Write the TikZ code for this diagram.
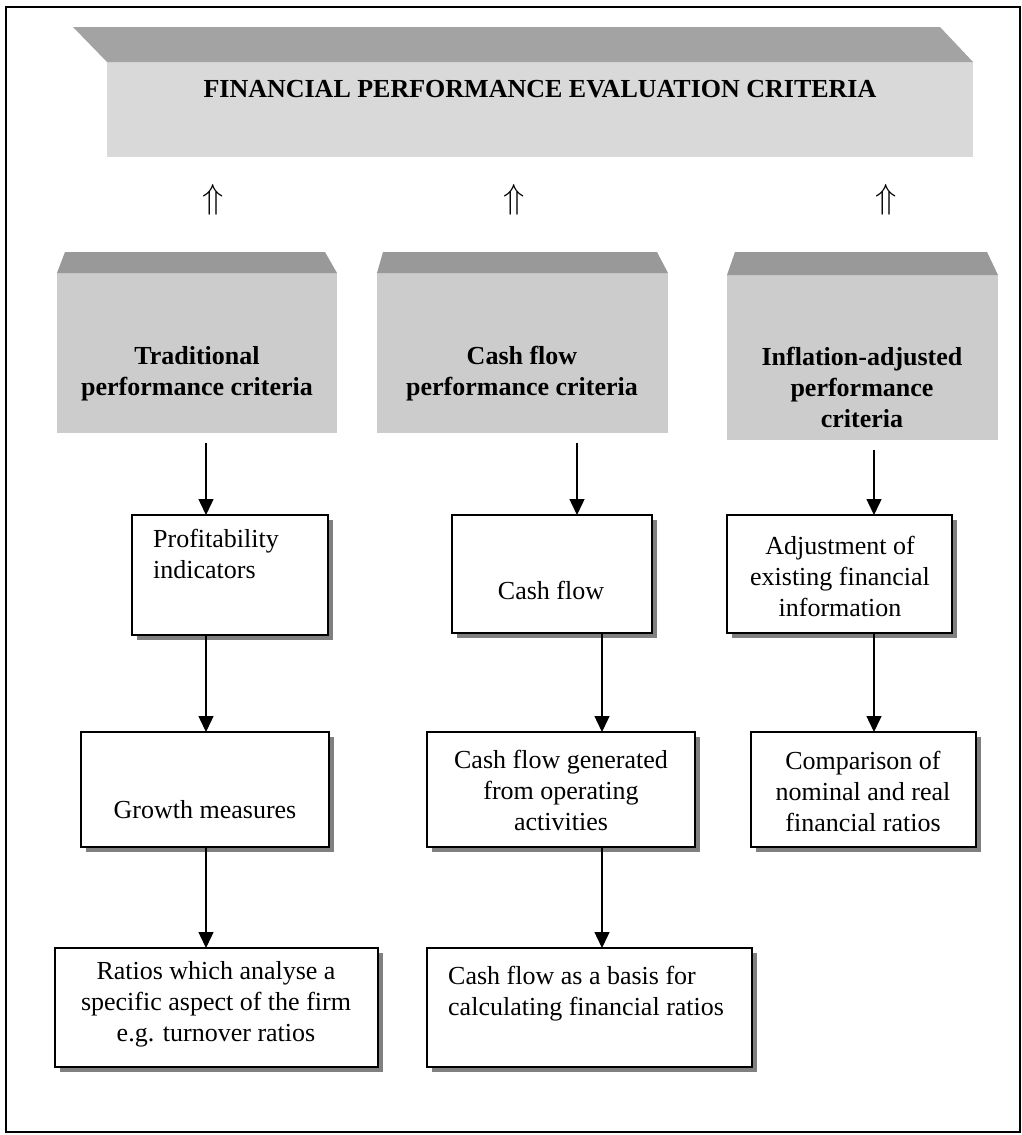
\documentclass[tikz,border=0pt]{standalone}
\usepackage{fontspec}
\setmainfont{Liberation Serif}
\usetikzlibrary{arrows.meta,shadows,calc}
\definecolor{hdrfront}{gray}{0.85}
\definecolor{hdrtop}{gray}{0.64}
\definecolor{crfront}{gray}{0.80}
\definecolor{crtop}{gray}{0.60}
\definecolor{shad}{gray}{0.50}
\begin{document}
\begin{tikzpicture}[x=1pt,y=-1pt,
  every node/.style={font=\fontsize{26}{31}\selectfont},
  wbox/.style={draw=black, line width=1.6pt, fill=white, outer sep=0pt, inner sep=0pt,
    drop shadow={shadow xshift=5pt, shadow yshift=-5pt, fill=shad, opacity=1}},
  face/.style={outer sep=0pt, inner sep=0pt, draw=none},
  txt/.style={inner sep=0pt, align=center},
  uparr/.style={inner sep=0pt, scale=1.4},
  btxt/.style={inner sep=0pt, align=center, font=\fontsize{26}{31}\selectfont\bfseries},
  ltxt/.style={inner sep=0pt, align=left, anchor=north west},
  arr/.style={line width=1.4pt, -{Triangle[length=16pt,width=15pt]}},
  frame/.style={draw=black, line width=2pt}
]
\useasboundingbox (0,0) rectangle (1022,1135);
\fill[white] (0,0) rectangle (1022,1135);
\draw[frame] (6,7) rectangle (1020,1132);

% header
\node[face, fill=hdrfront, minimum width=866pt, minimum height=95pt] (hdr) at (540,109.5) {};
\fill[hdrtop] ($(hdr.north west)+(-34,-35)$) -- ($(hdr.north east)+(-33,-35)$) -- (hdr.north east) -- (hdr.north west) -- cycle;
\node[btxt] (hdrT) at (540,89) {FINANCIAL PERFORMANCE EVALUATION CRITERIA};

% double arrows
\node[uparr] (up1) at (213,200) {$\Uparrow$};
\node[uparr] (up2) at (514,200) {$\Uparrow$};
\node[uparr] (up3) at (886,200) {$\Uparrow$};

% criteria boxes
\node[face, fill=crfront, minimum width=280pt, minimum height=160pt] (tradF) at (197,353) {};
\fill[crtop] ($(tradF.north west)+(8,-21)$) -- ($(tradF.north east)+(-12,-21)$) -- (tradF.north east) -- (tradF.north west) -- cycle;
\node[btxt] (tradT) at (197,374) {Traditional\\performance criteria};

\node[face, fill=crfront, minimum width=291pt, minimum height=160pt] (cashF) at (522.5,353) {};
\fill[crtop] ($(cashF.north west)+(6,-21)$) -- ($(cashF.north east)+(-11,-21)$) -- (cashF.north east) -- (cashF.north west) -- cycle;
\node[btxt] (cashT) at (522,374) {Cash flow\\performance criteria};

\node[face, fill=crfront, minimum width=271pt, minimum height=165pt] (inflF) at (862.5,357.5) {};
\fill[crtop] ($(inflF.north west)+(8,-23)$) -- ($(inflF.north east)+(-11,-23)$) -- (inflF.north east) -- (inflF.north west) -- cycle;
\node[btxt] (inflT) at (862,387) {Inflation-adjusted\\performance\\criteria};

% white boxes
\node[wbox, minimum width=196pt, minimum height=120pt] (prof) at (230,575) {};
\node[ltxt] (profT) at (153,529) {Profitability\\indicators};

\node[wbox, minimum width=248pt, minimum height=115pt] (growth) at (205,789.5) {};
\node[txt] (growthT) at (205,810) {Growth measures};

\node[wbox, minimum width=323pt, minimum height=119pt] (ratios) at (216.5,1007.5) {};
\node[txt] (ratiosT) at (216,1004) {Ratios which analyse a\\specific aspect of the firm\\e.g. turnover ratios};

\node[wbox, minimum width=200pt, minimum height=118pt] (cash) at (552,574) {};
\node[txt] (cashBT) at (551,590) {Cash flow};

\node[wbox, minimum width=268pt, minimum height=115pt] (gen) at (561,789.5) {};
\node[txt] (genT) at (561,790) {Cash flow generated\\from operating\\activities};

\node[wbox, minimum width=325pt, minimum height=119pt] (basis) at (589.5,1007.5) {};
\node[ltxt] (basisT) at (448,966) {Cash flow as a basis for\\calculating financial ratios};

\node[wbox, minimum width=225pt, minimum height=118pt] (adj) at (839.5,574) {};
\node[txt] (adjT) at (840,576) {Adjustment of\\existing financial\\information};

\node[wbox, minimum width=225pt, minimum height=115pt] (comp) at (863.5,789.5) {};
\node[txt] (compT) at (863,791) {Comparison of\\nominal and real\\financial ratios};

% connectors
\coordinate (a1) at ([shift={(9,10)}]tradF.south);
\draw[arr] (a1) -- (a1 |- prof.north);
\coordinate (a2) at ([shift={(54.5,10)}]cashF.south);
\draw[arr] (a2) -- (a2 |- cash.north);
\coordinate (a3) at ([shift={(11.5,10)}]inflF.south);
\draw[arr] (a3) -- (a3 |- adj.north);

\coordinate (b1) at ([xshift=-24pt]prof.south);
\draw[arr] (b1) -- (b1 |- growth.north);
\coordinate (b2) at ([xshift=1pt]growth.south);
\draw[arr] (b2) -- (b2 |- ratios.north);

\coordinate (c1) at ([xshift=50pt]cash.south);
\draw[arr] (c1) -- (c1 |- gen.north);
\coordinate (c2) at ([xshift=41pt]gen.south);
\draw[arr] (c2) -- (c2 |- basis.north);

\coordinate (d1) at ([xshift=34.5pt]adj.south);
\draw[arr] (d1) -- (d1 |- comp.north);
\end{tikzpicture}
\end{document}
